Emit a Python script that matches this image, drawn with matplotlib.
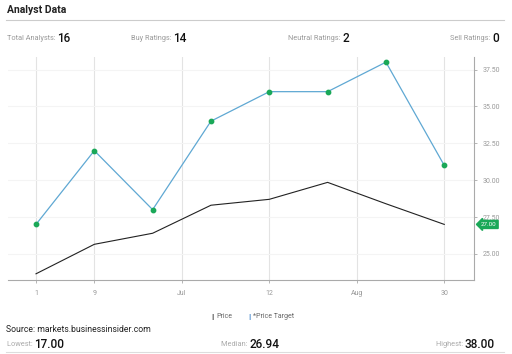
import matplotlib.pyplot as plt
from matplotlib.lines import Line2D

plt.rcParams['font.family'] = ['Roboto', 'DejaVu Sans']

# data (x = evenly spaced rating dates)
x_idx = [0, 1, 2, 3, 4, 5, 6, 7]
price_target = [27.0, 32.0, 28.0, 34.0, 36.0, 36.0, 38.0, 31.0]
price = [23.65, 25.65, 26.4, 28.3, 28.7, 29.85, 28.4, 27.0]
tick_pos = [0, 1, 2.5, 4, 5.5, 7]
tick_labels = ["1", "9", "Jul", "12", "Aug", "30"]
y_ticks = [25.0, 27.5, 30.0, 32.5, 35.0, 37.5]

stats_top = [("Total Analysts: ", "16"), ("Buy Ratings: ", "14"),
             ("Neutral Ratings: ", "2"), ("Sell Ratings: ", "0")]
stats_bottom = [("Lowest: ", "17.00"), ("Median: ", "26.94"), ("Highest: ", "38.00")]

W, H = 512, 354
fig = plt.figure(figsize=(W / 100, H / 100), dpi=100)
fig.patch.set_facecolor("white")

ax = fig.add_axes([8 / W, (H - 280) / H, 466 / W, 223 / H])
ax.plot(x_idx, price_target, color="#5fa8d3", lw=0.9, zorder=3)
ax.scatter(x_idx, price_target, color="#1aa858", s=10, zorder=4)
ax.plot(x_idx, price, color="#222222", lw=0.8, zorder=3)

ax.set_xlim(-0.48, 7.51)
ax.set_ylim(23.23, 38.35)
ax.set_xticks(tick_pos)
ax.set_xticklabels(tick_labels)
ax.set_yticks(y_ticks)
ax.set_yticklabels([f"{v:.2f}" for v in y_ticks])
ax.yaxis.tick_right()
ax.tick_params(axis="both", labelsize=5, colors="#999999", length=2.5, width=0.5)
ax.tick_params(axis="x", pad=5)
for side in ["top", "left"]:
    ax.spines[side].set_visible(False)
for side in ["bottom", "right"]:
    ax.spines[side].set_color("#aaaaaa")
    ax.spines[side].set_linewidth(0.8)
ax.grid(axis="x", color="#e3e3e3", lw=0.8)
ax.grid(axis="y", color="#f4f4f4", lw=0.8)
ax.set_axisbelow(True)

# current price tag on right axis
ax.annotate(f"{price[-1]:.2f}", xy=(1.0, price[-1]), xycoords=("axes fraction", "data"),
            xytext=(5, 0), textcoords="offset points", fontsize=4.5, color="white",
            va="center", ha="left",
            bbox=dict(boxstyle="larrow,pad=0.25", fc="#1aa858", ec="#1aa858"))

# header
fig.text(7 / W, 1 - 10 / H, "Analyst Data", fontsize=7.5, fontweight="bold",
         color="#222222", va="center")
fig.add_artist(Line2D([6 / W, 504 / W], [1 - 20 / H, 1 - 20 / H], color="#cccccc", lw=0.8))

top_x = [7, 131, 288, 450]
for (lab, val), x in zip(stats_top, top_x):
    t = fig.text(x / W, 1 - 39 / H, lab, fontsize=5.3, color="#999999", va="center")
    fig.canvas.draw()
    bb = t.get_window_extent()
    fig.text(bb.x1 / W, 1 - 39 / H, val, fontsize=8.5, color="#111111",
             fontweight="medium", va="center")

# legend
fig.text(211 / W, 1 - 317 / H, "|", fontsize=6, color="#111111", va="center", fontweight="bold")
fig.text(216 / W, 1 - 317 / H, "Price", fontsize=5, color="#666666", va="center")
fig.text(248 / W, 1 - 317 / H, "|", fontsize=6, color="#1f6fc0", va="center", fontweight="bold")
fig.text(253 / W, 1 - 317 / H, "*Price Target", fontsize=5, color="#666666", va="center")

fig.text(6 / W, 1 - 329 / H, "Source: markets.businessinsider.com", fontsize=6.2,
         color="#222222", va="center")

bot_x = [7, 221, 436]
for (lab, val), x in zip(stats_bottom, bot_x):
    t = fig.text(x / W, 1 - 345 / H, lab, fontsize=5.3, color="#aaaaaa", va="center")
    fig.canvas.draw()
    bb = t.get_window_extent()
    fig.text(bb.x1 / W, 1 - 345 / H, val, fontsize=8.5, color="#111111",
             fontweight="medium", va="center")
fig.add_artist(Line2D([6 / W, 504 / W], [1 - 352 / H, 1 - 352 / H], color="#dddddd", lw=0.8))

fig.savefig("out.png", dpi=100)
